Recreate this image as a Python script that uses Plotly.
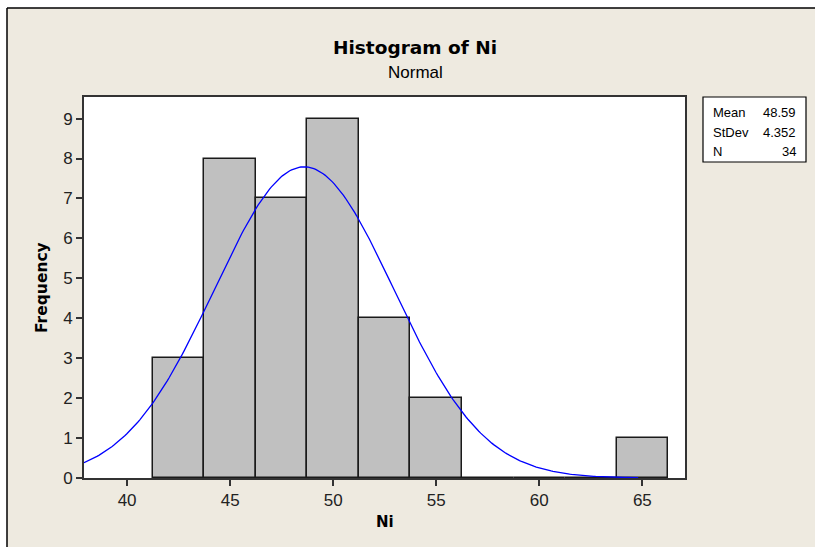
import numpy as np
import plotly.graph_objects as go

# Histogram data (Minitab bins of width 2.5)
bin_centers = [42.5, 45.0, 47.5, 50.0, 52.5, 55.0, 57.5, 60.0, 62.5, 65.0]
counts = [3, 8, 7, 9, 4, 2, 0, 0, 0, 1]
bin_width = 2.5

# Fit statistics
mean_ni = 48.59
stdev_ni = 4.352
n_ni = 34
stat_labels = ["Mean", "StDev", "N"]
stat_values = ["48.59", "4.352", "34"]

x_ticks = [40, 45, 50, 55, 60, 65]
y_ticks = list(range(0, 10))

W, H = 815, 547
L, R, T, B = 84, 685, 97, 478

def px(x):
    return (x - L) / (R - L)

def py(y):
    return (B - y) / (B - T)

# Normal fit curve from displayed statistics
xc = np.linspace(37.91, 64.8, 300)
yc = n_ni * bin_width * np.exp(-0.5 * ((xc - mean_ni) / stdev_ni) ** 2) / (stdev_ni * np.sqrt(2 * np.pi))

FONT = "Liberation Sans"
BFONT = "DejaVu Sans"

fig = go.Figure()
fig.add_trace(go.Bar(
    x=bin_centers, y=counts, width=bin_width,
    marker=dict(color="#C0C0C0", line=dict(color="#1a1a1a", width=1.5)),
    hoverinfo="x+y", showlegend=False,
))
fig.add_trace(go.Scatter(
    x=xc, y=yc, mode="lines",
    line=dict(color="#0000FF", width=1.3),
    showlegend=False, hoverinfo="skip",
))

shapes = [
    # white strips outside the frame
    dict(type="rect", xref="paper", yref="paper", x0=px(-5), x1=px(W + 5), y0=py(8), y1=py(-5),
         fillcolor="white", line=dict(width=0), layer="below"),
    dict(type="rect", xref="paper", yref="paper", x0=px(-5), x1=px(7), y0=py(H + 5), y1=py(-5),
         fillcolor="white", line=dict(width=0), layer="below"),
    dict(type="line", xref="paper", yref="paper", x0=px(7), x1=px(W + 5), y0=py(8), y1=py(8),
         line=dict(color="black", width=1.5)),
    dict(type="line", xref="paper", yref="paper", x0=px(7), x1=px(7), y0=py(8), y1=py(H + 5),
         line=dict(color="black", width=1.5)),
    # stats box
    dict(type="rect", xref="paper", yref="paper", x0=px(703), x1=px(806), y0=py(162), y1=py(97),
         fillcolor="white", line=dict(color="black", width=1.2)),
]

annotations = [
    dict(text="<b>Histogram of Ni</b>", xref="paper", yref="paper", x=px(415), y=py(47.5),
         xanchor="center", yanchor="middle", showarrow=False, font=dict(family=BFONT, size=18.5, color="black")),
    dict(text="Normal", xref="paper", yref="paper", x=px(415), y=py(73),
         xanchor="center", yanchor="middle", showarrow=False, font=dict(family=FONT, size=17, color="black")),
    dict(text="<b>Frequency</b>", xref="paper", yref="paper", x=px(42), y=py(288), textangle=-90,
         xanchor="center", yanchor="middle", showarrow=False, font=dict(family=BFONT, size=15.5, color="black")),
    dict(text="<b>Ni</b>", xref="paper", yref="paper", x=px(385), y=py(522),
         xanchor="center", yanchor="middle", showarrow=False, font=dict(family=BFONT, size=15, color="black")),
]
row_y = [112, 132, 151]
for lab, val, ry in zip(stat_labels, stat_values, row_y):
    annotations.append(dict(text=lab, xref="paper", yref="paper", x=px(711), y=py(ry),
                            xanchor="left", yanchor="middle", showarrow=False,
                            font=dict(family=FONT, size=13, color="black")))
    annotations.append(dict(text=val, xref="paper", yref="paper", x=px(798), y=py(ry),
                            xanchor="right", yanchor="middle", showarrow=False,
                            font=dict(family=FONT, size=13, color="black")))

fig.update_layout(
    width=W, height=H,
    margin=dict(l=L, r=W - R, t=T, b=H - B, pad=0),
    paper_bgcolor="#EEEAE0",
    plot_bgcolor="white",
    bargap=0,
    shapes=shapes,
    annotations=annotations,
    font=dict(family=FONT, size=17, color="#222"),
)
fig.update_xaxes(
    range=[37.91, 67.07], tickvals=x_ticks, ticktext=[str(v) for v in x_ticks],
    showgrid=False, zeroline=False, showline=True, mirror=True, linecolor="#333", linewidth=2,
    ticks="outside", ticklen=6, tickwidth=1.5, tickcolor="#333",
    tickfont=dict(family=FONT, size=17, color="#222"),
)
fig.update_yaxes(
    range=[0, 9.54], tickvals=y_ticks,
    showgrid=False, zeroline=False, showline=True, mirror=True, linecolor="#333", linewidth=2,
    ticks="outside", ticklen=6, tickwidth=1.5, tickcolor="#333",
    tickfont=dict(family=FONT, size=17, color="#222"),
)

fig.write_html(
    "out.html",
    config={"displayModeBar": False},
    post_script="document.body.style.margin='0';document.body.style.overflow='hidden';",
)
